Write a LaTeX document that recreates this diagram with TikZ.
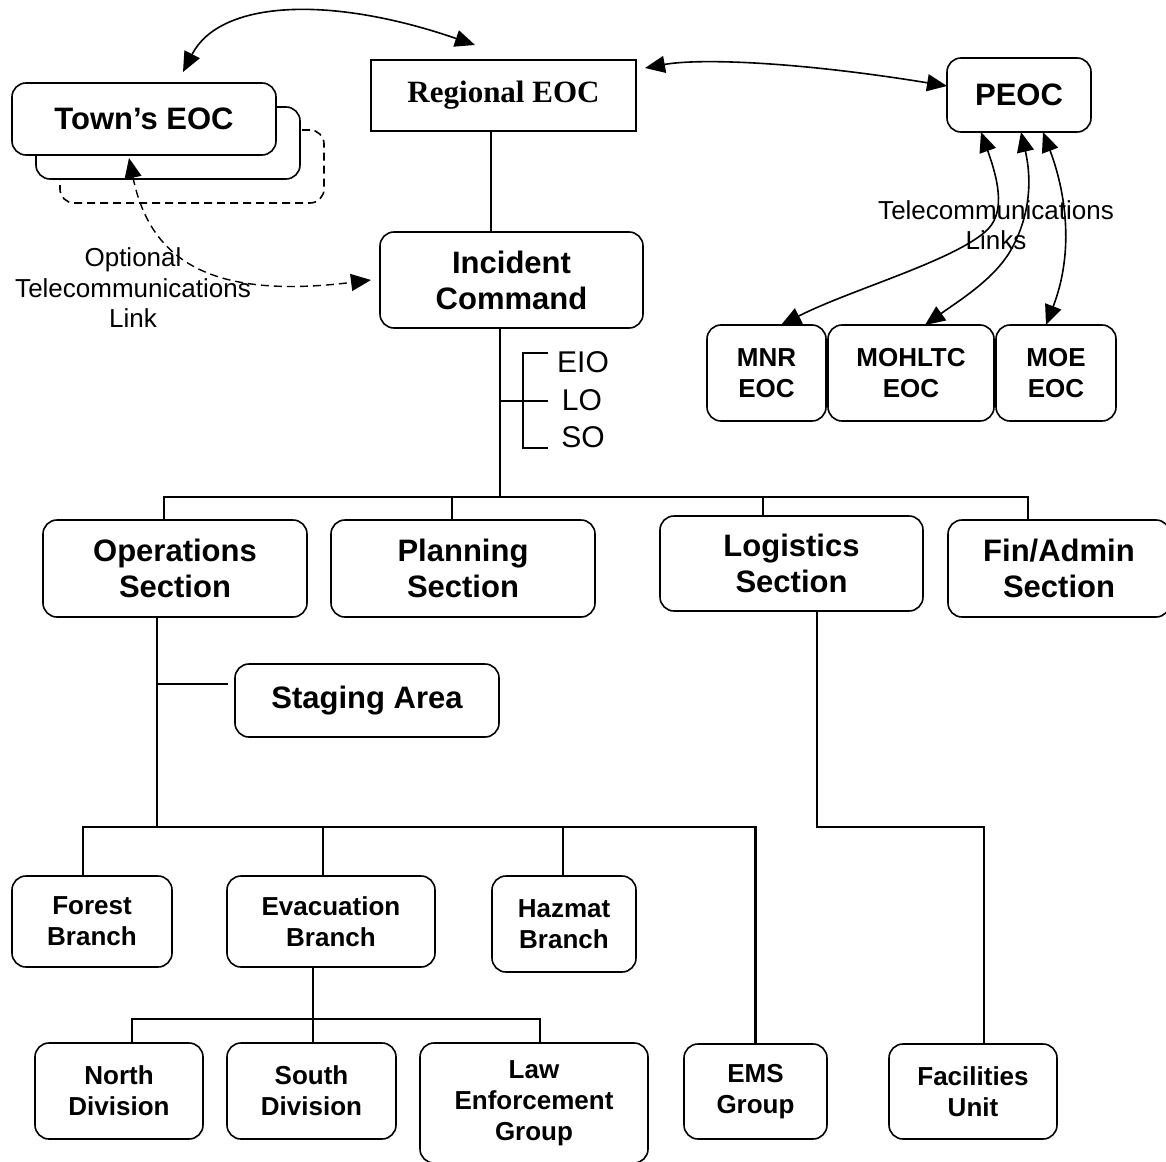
\documentclass[tikz,border=0pt]{standalone}
\usepackage{fontspec}
\setmainfont{Liberation Sans}
\newfontfamily\timesfont{Liberation Serif}
\usetikzlibrary{arrows.meta}

\begin{document}
\begin{tikzpicture}[x=1pt,y=-1pt,
  every node/.style={inner sep=0pt, outer sep=0pt},
  box/.style={draw, line width=1.6pt, rounded corners=14pt, fill=white, align=center},
  big/.style={font=\fontsize{31}{36}\selectfont\bfseries},
  mid/.style={font=\fontsize{26}{31}\selectfont\bfseries},
  lbl/.style={font=\fontsize{26}{30.5}\selectfont, align=center},
  staff/.style={font=\fontsize{30}{36}\selectfont},
  conn/.style={line width=1.6pt},
  heavy/.style={line width=2.6pt},
  brk/.style={line width=2.4pt},
  link/.style={line width=1.6pt, <->},
  optlink/.style={line width=1.4pt, <->, dash pattern=on 8pt off 5pt},
  >={Triangle[length=20pt,width=17pt]}
]
\useasboundingbox (0,0) rectangle (1166,1161);

% --- Town's EOC stack (several local EOCs) ---
\node[box, dashed, dash pattern=on 8pt off 5pt, minimum width=264pt, minimum height=73pt] (town3) at (192,166.5) {};
\node[box, minimum width=264pt, minimum height=72pt] (town2) at (168,143) {};
\node[box, big, minimum width=264pt, minimum height=72pt] (town1) at (144,119) {Town’s EOC};

% --- top level ---
\node[draw, line width=1.6pt, fill=white, minimum width=265pt, minimum height=71pt,
      font=\fontsize{31}{36}\selectfont\timesfont\bfseries] (regional) at (503.5,95.5) {Regional EOC};
\node[box, big, minimum width=144pt, minimum height=74pt] (peoc) at (1019,95) {PEOC};
\node[box, big, minimum width=263pt, minimum height=96pt] (incident) at (511.5,280) {Incident\\Command};

% --- ministry EOCs ---
\node[box, mid, minimum width=119pt, minimum height=96pt] (mnr) at (766.5,373) {MNR\\EOC};
\node[box, mid, minimum width=166pt, minimum height=96pt] (mohltc) at (911,373) {MOHLTC\\EOC};
\node[box, mid, minimum width=120pt, minimum height=96pt] (moe) at (1056,373) {MOE\\EOC};

% --- command staff ---
\node[staff] (eio) at (583,362) {EIO};
\node[staff] (lo) at (582,400) {LO};
\node[staff] (so) at (583,437) {SO};

% --- sections ---
\node[box, big, minimum width=264pt, minimum height=97pt] (ops) at (175,568.5) {Operations\\Section};
\node[box, big, minimum width=264pt, minimum height=97pt] (planning) at (463,568.5) {Planning\\Section};
\node[box, big, minimum width=263pt, minimum height=95pt] (logistics) at (791.5,563.5) {Logistics\\Section};
\node[box, big, minimum width=222pt, minimum height=97pt] (fin) at (1059,568.5) {Fin/Admin\\Section};
\node[box, big, minimum width=264pt, minimum height=73pt] (staging) at (367,700.5) {Staging Area};

% --- branches ---
\node[box, mid, minimum width=160pt, minimum height=91pt] (forest) at (92,921.5) {Forest\\Branch};
\node[box, mid, minimum width=208pt, minimum height=91pt] (evac) at (331,921.5) {Evacuation\\Branch};
\node[box, mid, minimum width=144pt, minimum height=96pt] (hazmat) at (564,924) {Hazmat\\Branch};

% --- divisions, groups, units ---
\node[box, mid, minimum width=168pt, minimum height=96pt] (north) at (119,1091) {North\\Division};
\node[box, mid, minimum width=169pt, minimum height=96pt] (south) at (311.5,1091) {South\\Division};
\node[box, mid, minimum width=228pt, minimum height=120pt] (law) at (534,1103) {Law\\Enforcement\\Group};
\node[box, mid, minimum width=143pt, minimum height=95pt] (ems) at (755.5,1091.5) {EMS\\Group};
\node[box, mid, minimum width=168pt, minimum height=95pt] (facilities) at (973,1091.5) {Facilities\\Unit};

% --- junction points ---
\coordinate (secBus) at (500,497);
\coordinate (staffJ) at (500,401);
\coordinate (brkTop) at (548,353);
\coordinate (brkBot) at (548,448);
\coordinate (brkMid) at (548,401);
\coordinate (opsStage) at (157,684);
\coordinate (brBus) at (157,827);
\coordinate (divBus) at (313,1019);
\coordinate (logBus) at (817,827);

% --- command chain ---
\draw[conn] ([xshift=-12.5pt]regional.south) -- ([xshift=-20.5pt]incident.north);
\draw[conn] ([xshift=-11.5pt]incident.south) -- (secBus);

% command staff bracket
\draw[conn] (staffJ) -- (brkMid);
\draw[brk] (brkTop) -| (523,448) -- (brkBot);

% section bus
\draw[heavy] ([xshift=-11pt]planning.north) |- (secBus);
\draw[conn] ([xshift=-11pt]ops.north) |- ([xshift=-11pt]planning.north |- secBus);
\draw[heavy] (secBus) -| ([xshift=-31pt]fin.north);
\draw[conn] ([xshift=-28.5pt]logistics.north) -- ([xshift=-28.5pt]logistics.north |- secBus);

% operations
\draw[conn] ([xshift=-18pt]ops.south) -- (brBus);
\draw[conn] (opsStage) -- ([xshift=-7pt,yshift=16.5pt]staging.west);
\draw[conn] ([xshift=-9pt]forest.north) |- (brBus);
\draw[heavy] (brBus) -| (ems.north);
\draw[conn] ([xshift=-8pt]evac.north) -- ([xshift=-8pt]evac.north |- brBus);
\draw[conn] ([xshift=-1pt]hazmat.north) -- ([xshift=-1pt]hazmat.north |- brBus);

% evacuation branch
\draw[conn] ([xshift=-18pt]evac.south) -- ([xshift=1.5pt]south.north);
\draw[conn] ([xshift=13pt]north.north) |- (divBus);
\draw[heavy] (divBus) -| ([xshift=6pt]law.north);

% logistics
\draw[conn] ([xshift=25.5pt]logistics.south) -- (logBus) -| ([xshift=11pt]facilities.north);

% --- communication links ---
\draw[link] ([xshift=39pt,yshift=11pt]town1.north) .. controls (220,0) and (330,-5) .. ([xshift=-28.5pt,yshift=15pt]regional.north);
\draw[link] ([xshift=9pt,yshift=-8pt]regional.north east) .. controls (700,58) and (800,62) .. ([yshift=9pt]peoc.west);

\draw[link] ([xshift=-38pt]peoc.south) .. controls (1000,185) and (1005,215) .. (985,232)
  .. controls (950,262) and (850,290) .. ([xshift=14.5pt]mnr.north);
\draw[link] ([xshift=2pt]peoc.south) .. controls (1032,180) and (1030,215) .. (1012,248)
  .. controls (996,278) and (960,300) .. ([xshift=14pt]mohltc.north);
\draw[link] ([xshift=24pt]peoc.south) .. controls (1065,190) and (1075,250) .. ([xshift=-10pt]moe.north);
\node[lbl] (tellbl) at (996,225) {Telecommunications\\Links};

\draw[optlink] ([xshift=-15pt,yshift=-3pt]town1.south) .. controls (150,260) and (210,300) .. ([xshift=-9pt]incident.west);
\node[lbl] (optlbl) at (133,288) {Optional\\Telecommunications\\Link};

\end{tikzpicture}
\end{document}
